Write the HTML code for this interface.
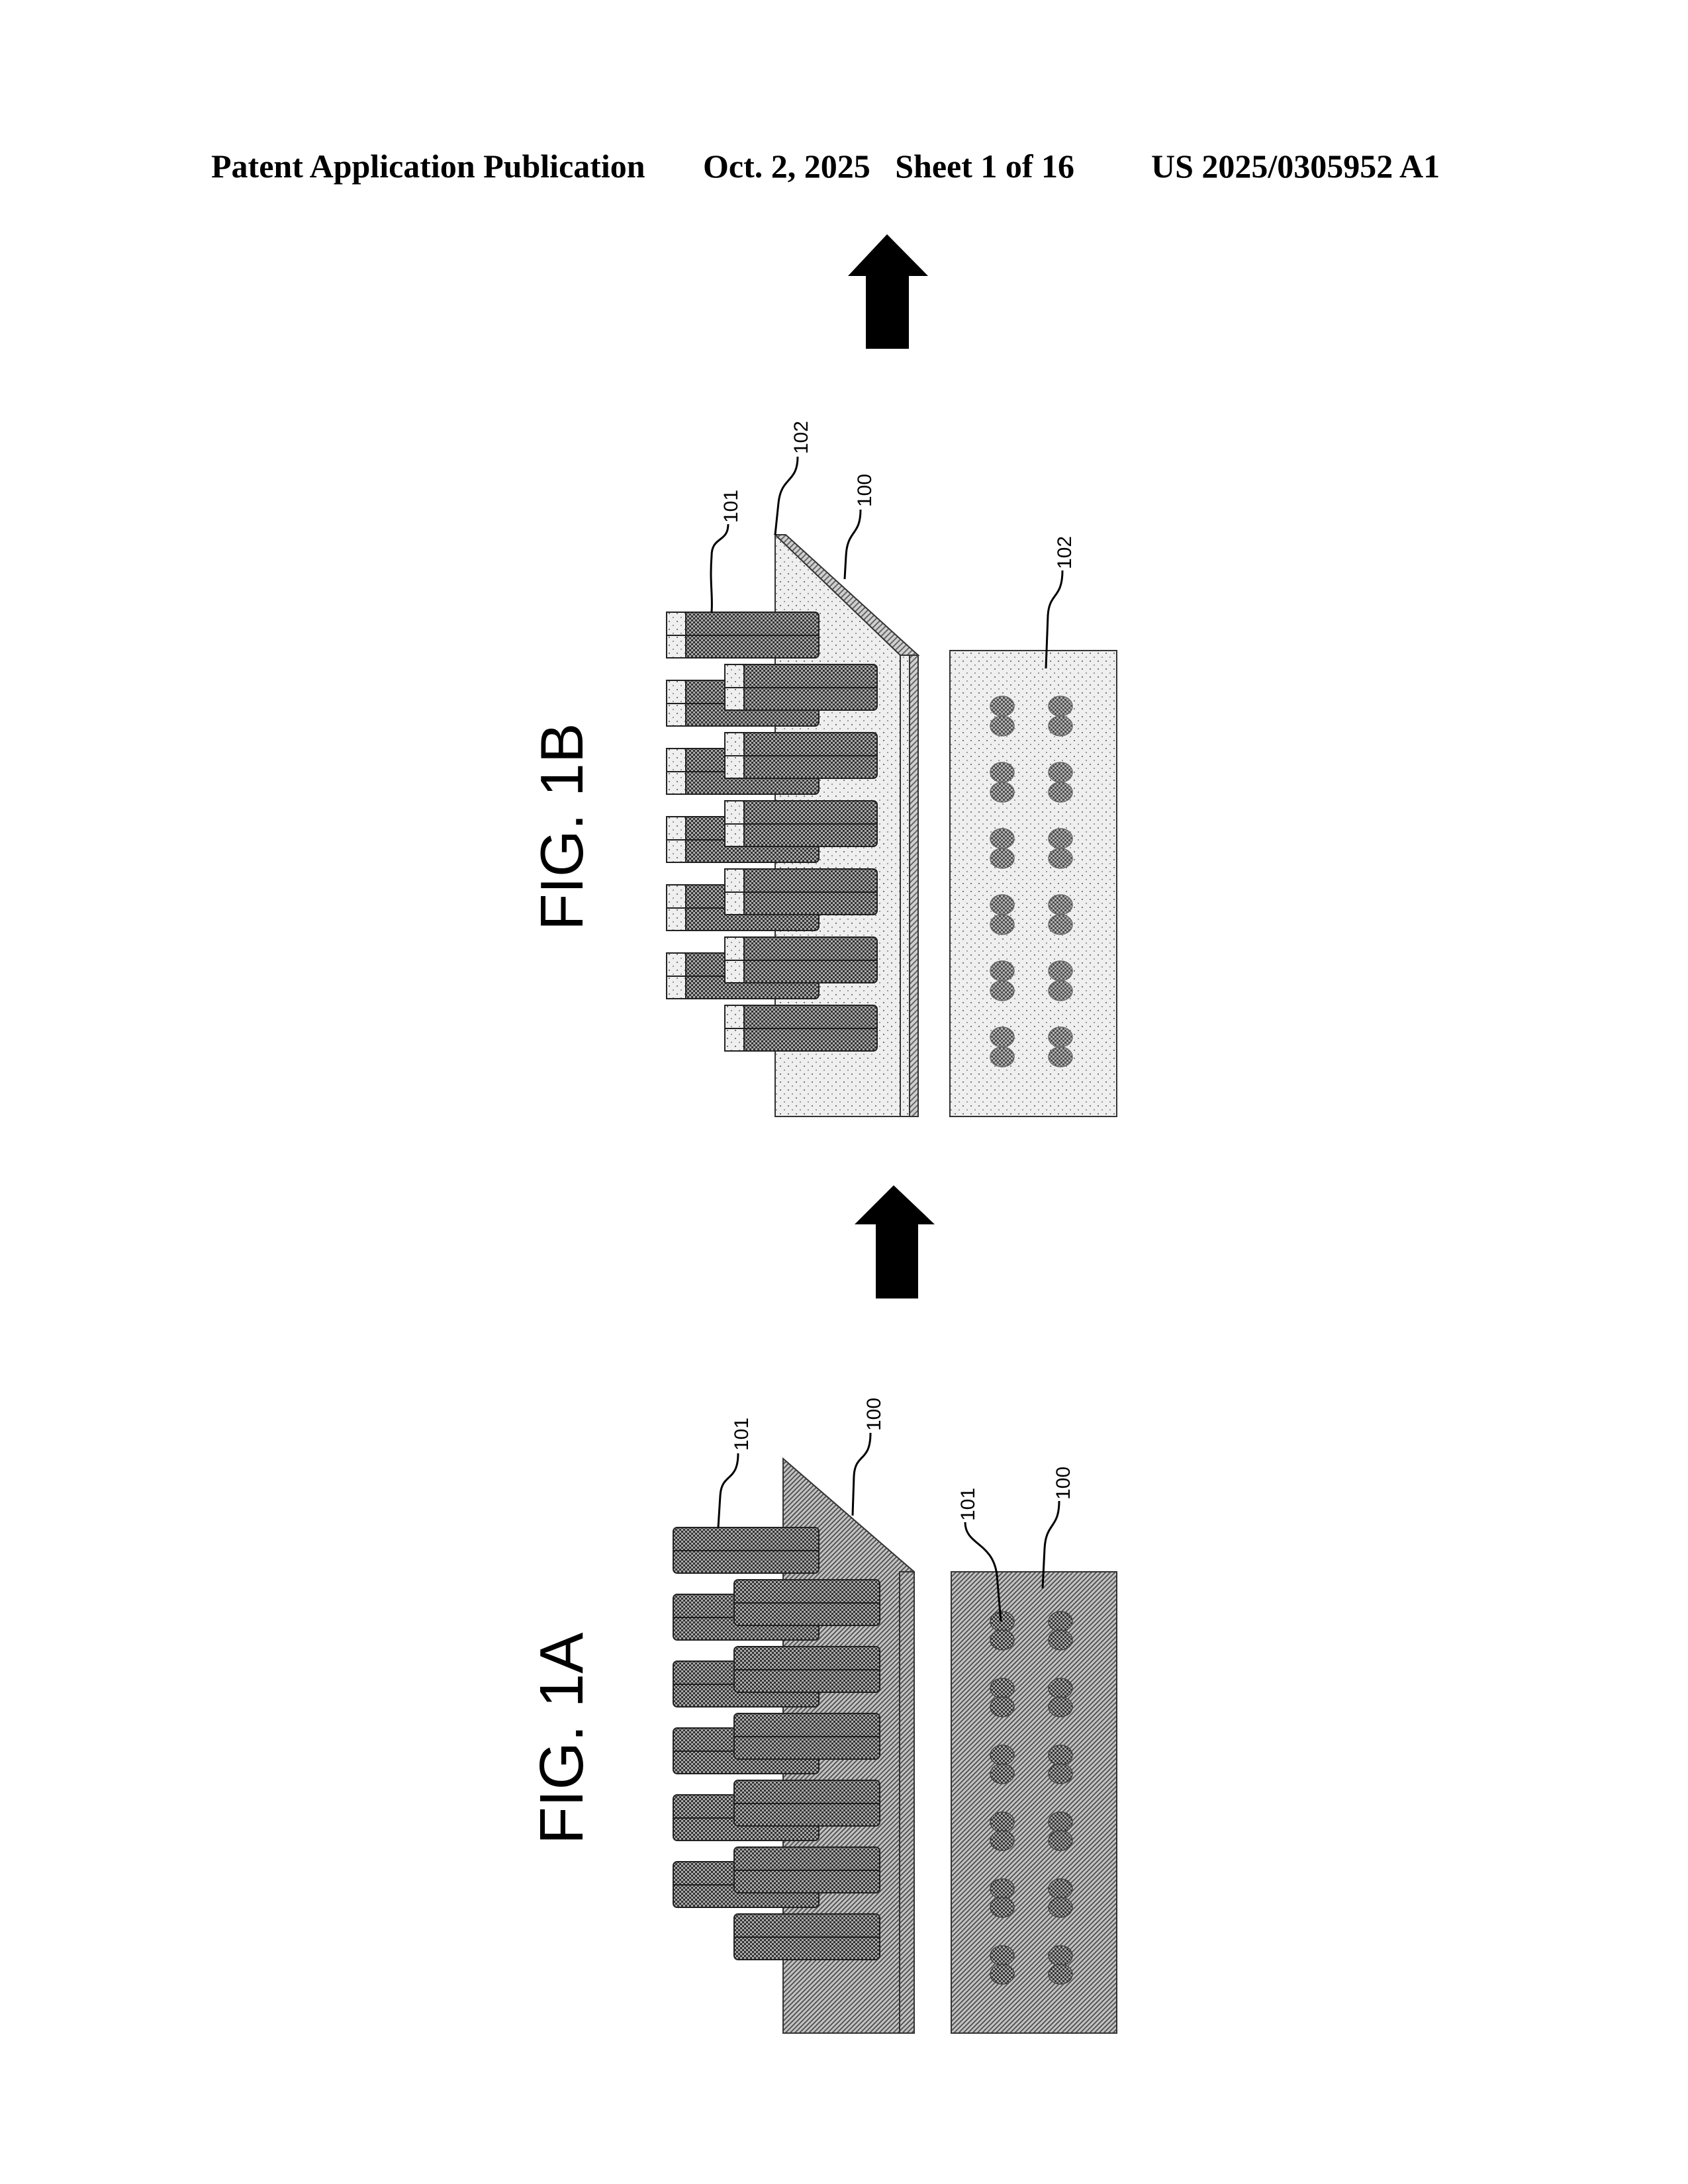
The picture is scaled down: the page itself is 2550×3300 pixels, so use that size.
<!DOCTYPE html>
<html><head><style>
html,body{margin:0;padding:0;background:#fff;}
.h{position:absolute;top:222px;font-family:"Liberation Serif",serif;font-weight:bold;font-size:50px;white-space:nowrap;}
</style></head><body>
<div style="position:relative;width:2550px;height:3300px;overflow:hidden;">
<div class="h" style="left:319px">Patent Application Publication</div>
<div class="h" style="left:1062px">Oct. 2, 2025 &nbsp;&nbsp;Sheet 1 of 16</div>
<div class="h" style="left:1739px">US 2025/0305952 A1</div>
<svg width="2550" height="3300" style="position:absolute;left:0;top:0" xmlns="http://www.w3.org/2000/svg">
<defs>
<pattern id="chk" width="6" height="6" patternUnits="userSpaceOnUse"><rect width="6" height="6" fill="#aaa"/><rect width="3" height="3" fill="#333"/><rect x="3" y="3" width="3" height="3" fill="#333"/></pattern>
<pattern id="dot" width="12" height="12" patternUnits="userSpaceOnUse"><rect width="12" height="12" fill="#efefef"/><rect x="2" y="2" width="2" height="2" fill="#777"/><rect x="8" y="8" width="2" height="2" fill="#999"/></pattern>
<pattern id="hat" width="6" height="6" patternUnits="userSpaceOnUse" patternTransform="rotate(45)"><rect width="6" height="6" fill="#d0d0d0"/><rect width="2" height="6" fill="#666"/></pattern>
<pattern id="hat2" width="5" height="5" patternUnits="userSpaceOnUse" patternTransform="rotate(45)"><rect width="5" height="5" fill="#c4c4c4"/><rect width="2" height="5" fill="#555"/></pattern>
</defs>
<polygon points="1340,354 1402,417 1373,417 1373,527 1308,527 1308,417 1281,417" fill="#000"/>
<polygon points="1350,1791 1412,1850 1387,1850 1387,1962 1323,1962 1323,1850 1291,1850" fill="#000"/>
<text transform="translate(880,1406) rotate(-90)" font-family="Liberation Sans,sans-serif" font-size="91" fill="#000">FIG. 1B</text>
<text transform="translate(880,2787) rotate(-90)" font-family="Liberation Sans,sans-serif" font-size="93" fill="#000">FIG. 1A</text>

<polygon points="1171,808 1360,990 1360,1687 1171,1687" fill="url(#dot)" stroke="#333" stroke-width="2"/>
<polygon points="1171,808 1187,808 1387,990 1360,990" fill="url(#hat)" stroke="#333" stroke-width="2"/>
<rect x="1360" y="990" width="14" height="697" fill="url(#dot)" stroke="#333" stroke-width="2"/>
<rect x="1374" y="990" width="13" height="697" fill="url(#hat)" stroke="#333" stroke-width="2"/>
<g id="b1">
<g stroke="#222" stroke-width="2">
<rect x="1007" y="925" width="230" height="69" rx="6" fill="url(#chk)"/>
<line x1="1007" y1="960" x2="1237" y2="960"/>
<rect x="1007" y="925" width="29" height="69" fill="url(#dot)"/>
<line x1="1007" y1="960" x2="1036" y2="960"/>
</g></g>
<use href="#b1" y="103"/><use href="#b1" y="206"/><use href="#b1" y="309"/><use href="#b1" y="412"/><use href="#b1" y="515"/>
<g id="f1"><use href="#b1" x="88" y="79"/></g>
<use href="#f1" y="103"/><use href="#f1" y="206"/><use href="#f1" y="309"/><use href="#f1" y="412"/><use href="#f1" y="515"/>

<rect x="1435" y="983" width="252" height="704" fill="url(#dot)" stroke="#333" stroke-width="2"/>
<g fill="url(#chk)" stroke="#555" stroke-width="1.5" opacity="0.85">
<g id="p1"><ellipse cx="1514" cy="1067" rx="18" ry="15"/><ellipse cx="1514" cy="1097" rx="18" ry="15"/><ellipse cx="1602" cy="1067" rx="18" ry="15"/><ellipse cx="1602" cy="1097" rx="18" ry="15"/></g>
<use href="#p1" y="100"/><use href="#p1" y="200"/><use href="#p1" y="300"/><use href="#p1" y="400"/><use href="#p1" y="500"/>
</g>

<polygon points="1183,2204 1381,2375 1381,3072 1183,3072" fill="url(#hat2)" stroke="#333" stroke-width="2"/>
<rect x="1359" y="2375" width="22" height="697" fill="url(#hat2)" stroke="#333" stroke-width="2"/>
<g id="b2" stroke="#222" stroke-width="2">
<rect x="1017" y="2308" width="220" height="69" rx="6" fill="url(#chk)"/>
<line x1="1017" y1="2343" x2="1237" y2="2343"/>
</g>
<use href="#b2" y="101"/><use href="#b2" y="202"/><use href="#b2" y="303"/><use href="#b2" y="404"/><use href="#b2" y="505"/>
<g id="f2"><use href="#b2" x="92" y="79"/></g>
<use href="#f2" y="101"/><use href="#f2" y="202"/><use href="#f2" y="303"/><use href="#f2" y="404"/><use href="#f2" y="505"/>

<rect x="1437" y="2375" width="250" height="697" fill="url(#hat2)" stroke="#333" stroke-width="2"/>
<g fill="url(#chk)" stroke="#444" stroke-width="1.5">
<g id="p2"><ellipse cx="1514" cy="2450" rx="18" ry="15"/><ellipse cx="1514" cy="2478" rx="18" ry="15"/><ellipse cx="1602" cy="2450" rx="18" ry="15"/><ellipse cx="1602" cy="2478" rx="18" ry="15"/></g>
<use href="#p2" y="101"/><use href="#p2" y="202"/><use href="#p2" y="303"/><use href="#p2" y="404"/><use href="#p2" y="505"/>
</g>

<g fill="none" stroke="#000" stroke-width="3">
<path d="M1100,792 C1100,820 1075,810 1075,840 C1072,880 1077,900 1075,925"/>
<path d="M1205,690 C1205,730 1180,720 1176,760 L1171,808"/>
<path d="M1300,770 C1300,810 1280,800 1278,840 L1276,875"/>
<path d="M1605,862 C1605,905 1585,895 1583,930 L1580,1010"/>
<path d="M1115,2196 C1115,2240 1090,2225 1088,2260 L1085,2308"/>
<path d="M1315,2165 C1315,2210 1292,2195 1290,2230 L1288,2290"/>
<path d="M1458,2300 C1458,2335 1500,2330 1506,2380 L1512,2450"/>
<path d="M1600,2268 C1600,2310 1580,2300 1578,2340 L1575,2400"/>
</g>
<g font-family="Liberation Sans,sans-serif" font-size="30" fill="#000">
<text transform="translate(1114,790) rotate(-90)">101</text>
<text transform="translate(1220,686) rotate(-90)">102</text>
<text transform="translate(1316,766) rotate(-90)">100</text>
<text transform="translate(1618,860) rotate(-90)">102</text>
<text transform="translate(1130,2192) rotate(-90)">101</text>
<text transform="translate(1330,2162) rotate(-90)">100</text>
<text transform="translate(1472,2298) rotate(-90)">101</text>
<text transform="translate(1616,2266) rotate(-90)">100</text>
</g>
</svg>
</div>
</body></html>
